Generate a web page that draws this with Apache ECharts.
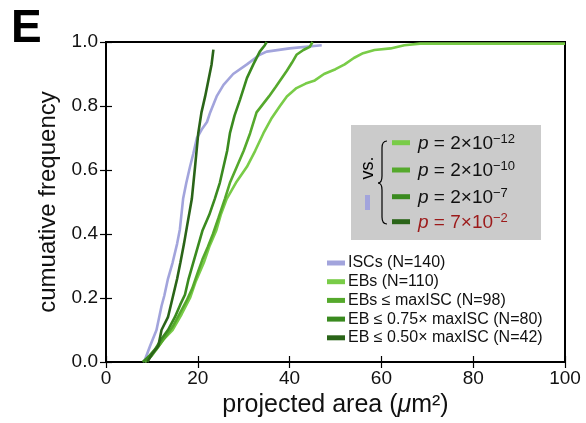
<!DOCTYPE html>
<html>
<head>
<meta charset="utf-8">
<script src="https://cdn.jsdelivr.net/npm/echarts@6/dist/echarts.min.js"></script>
<style>
html,body{margin:0;padding:0;background:#fff;}
#chart{width:586px;height:423px;}
</style>
</head>
<body>
<div id="chart"></div>
<script>
// ---- data (x = projected area µm², y = cumulative frequency) ----
const seriesNames = ['ISCs (N=140)', 'EBs (N=110)', 'EBs \u2264 maxISC (N=98)', 'EB \u2264 0.75\u00d7 maxISC (N=80)', 'EB \u2264 0.50\u00d7 maxISC (N=42)'];
const seriesColors = ['#a2a4dc', '#79cc48', '#55a92c', '#3a8a1f', '#2a6418'];

const iscPoints = [[8.3,0],[9.6,0.05],[11,0.1],[12.1,0.175],[12.7,0.207],[13.5,0.26],[14.5,0.31],[15.5,0.37],[16.1,0.415],[16.8,0.51],[17.5,0.56],[18.3,0.61],[19,0.65],[19.8,0.7],[21,0.73],[22,0.75],[22.7,0.78],[24.1,0.83],[25.6,0.866],[27.7,0.9],[30.7,0.93],[33.5,0.96],[35,0.97],[40,0.98],[47,0.99]];
const ebPoints = [[8.5,0],[9.5,0.02],[11,0.04],[12.5,0.07],[14.5,0.1],[16.5,0.15],[18.3,0.2],[19.5,0.25],[21.3,0.31],[22.5,0.36],[24,0.41],[25,0.46],[26.3,0.51],[28.3,0.56],[30.7,0.61],[32.5,0.66],[34.3,0.715],[36,0.76],[37.9,0.8],[39.4,0.83],[41.5,0.856],[43.5,0.87],[45.5,0.88],[47.5,0.9],[50,0.915],[52,0.93],[54,0.95],[56,0.965],[58.5,0.975],[62,0.98],[65,0.99],[68.4,0.995],[100,0.995]];
const ebMaxPoints = [[8.5,0],[10,0.02],[11.5,0.05],[13,0.08],[14.5,0.11],[16,0.15],[17.5,0.19],[18.8,0.23],[20,0.28],[21,0.32],[22.2,0.36],[23.3,0.4],[24.5,0.45],[25.9,0.51],[27,0.56],[28.5,0.61],[30,0.66],[31.4,0.715],[32.8,0.78],[35.5,0.83],[37,0.86],[39.4,0.91],[40.5,0.935],[41.5,0.96],[43,0.975],[44.4,0.985],[45,1.0]];
const eb75Points = [[8,0],[9.5,0.02],[10.7,0.04],[12,0.07],[13.5,0.1],[15,0.14],[16.2,0.18],[17.2,0.21],[18,0.26],[19,0.31],[20,0.36],[21,0.41],[22.5,0.46],[23.7,0.51],[24.8,0.56],[25.6,0.61],[26.4,0.66],[27,0.715],[28,0.77],[29.2,0.82],[30.7,0.887],[32.1,0.93],[33.5,0.97],[34.6,0.99],[35,1.0]];
const eb50Points = [[9,0],[10,0.024],[11.4,0.05],[12.1,0.1],[13.5,0.14],[14.5,0.2],[15.5,0.26],[16.2,0.31],[17,0.37],[17.6,0.42],[18.7,0.51],[19.4,0.61],[20.1,0.715],[20.8,0.78],[21.6,0.83],[22.3,0.88],[23,0.93],[23.4,0.976]];

const xTicks = [0, 20, 40, 60, 80, 100];
const yTicks = [0.0, 0.2, 0.4, 0.6, 0.8, 1.0];
const pMantissa = ['2\u00d710', '2\u00d710', '2\u00d710', '7\u00d710'];
const pExponent = ['\u221212', '\u221210', '\u22127', '\u22122'];

// ---- chart ----
const FONT = '"Liberation Sans", Arial, Helvetica, sans-serif';
const chart = echarts.init(document.getElementById('chart'), null, {renderer: 'canvas'});
const allPoints = [iscPoints, ebPoints, ebMaxPoints, eb75Points, eb50Points];

const series = allPoints.map((pts, i) => ({
  name: seriesNames[i],
  type: 'line',
  data: pts,
  symbol: 'none',
  smooth: false,
  lineStyle: {width: 2.6, color: seriesColors[i]},
  itemStyle: {color: seriesColors[i]},
  z: 2 + i,
  clip: false
}));

const braceStyle = {fill: 'none', stroke: '#000', lineWidth: 1.2};
const boxRows = [142.7, 170, 196.7, 221.7];
const graphics = [
  {type: 'text', left: 11, top: 6, style: {text: 'E', font: 'bold 46px ' + FONT, fill: '#000'}},
  {type: 'rect', shape: {x: 351, y: 125, width: 190, height: 115}, style: {fill: '#cbcbcb'}, z: 10},
  {type: 'text', x: 368, y: 168, rotation: Math.PI / 2, style: {text: 'vs.', font: '18px ' + FONT, fill: '#000', align: 'center', verticalAlign: 'middle'}, z: 11},
  {type: 'rect', shape: {x: 365, y: 195, width: 5, height: 15}, style: {fill: seriesColors[0]}, z: 11},
  {type: 'bezierCurve', shape: {x1: 387, y1: 141, cpx1: 382, cpy1: 141, x2: 382, y2: 148}, style: braceStyle, z: 11},
  {type: 'line', shape: {x1: 382, y1: 148, x2: 382, y2: 176}, style: braceStyle, z: 11},
  {type: 'bezierCurve', shape: {x1: 382, y1: 176, cpx1: 382, cpy1: 183, x2: 378, y2: 183}, style: braceStyle, z: 11},
  {type: 'bezierCurve', shape: {x1: 378, y1: 183, cpx1: 382, cpy1: 183, x2: 382, y2: 190}, style: braceStyle, z: 11},
  {type: 'line', shape: {x1: 382, y1: 190, x2: 382, y2: 217}, style: braceStyle, z: 11},
  {type: 'bezierCurve', shape: {x1: 382, y1: 217, cpx1: 382, cpy1: 224, x2: 387, y2: 224}, style: braceStyle, z: 11}
];
boxRows.forEach((y, i) => {
  graphics.push({type: 'rect', shape: {x: 392, y: y - 2.5, width: 18, height: 5}, style: {fill: seriesColors[i + 1]}, z: 11});
  const col = i === 3 ? '#9c1a1a' : '#111';
  graphics.push({
    type: 'text', x: 418, y: y + 1, z: 11,
    style: {
      text: '{i|p} = ' + pMantissa[i] + '{s|' + pExponent[i] + '}',
      font: '19px ' + FONT, fill: col, verticalAlign: 'middle',
      rich: {
        i: {fontStyle: 'italic', fontSize: 19, fontFamily: FONT, fill: col, lineHeight: 22},
        s: {fontSize: 13, fontFamily: FONT, fill: col, verticalAlign: 'top', lineHeight: 22}
      },
      lineHeight: 22
    }
  });
});

const option = {
  animation: false,
  backgroundColor: '#fff',
  grid: {left: 106, right: 21, top: 42, bottom: 60, show: true, borderColor: '#000', borderWidth: 2, backgroundColor: 'transparent'},
  legend: {
    orient: 'vertical', left: 322, top: 250, icon: 'rect', itemWidth: 18, itemHeight: 5, itemGap: 2.7,
    textStyle: {fontSize: 16, fontFamily: FONT, color: '#111', lineHeight: 16, padding: [0, 0, 0, -2]},
    data: seriesNames
  },
  xAxis: [
    {type: 'value', min: xTicks[0], max: xTicks[xTicks.length - 1], interval: 20, position: 'bottom',
     axisLine: {show: false}, splitLine: {show: false},
     axisTick: {show: true, inside: true, length: 6, lineStyle: {color: '#000', width: 1.2}},
     axisLabel: {fontSize: 19, fontFamily: FONT, color: '#111', margin: 7},
     name: 'projected area ({i|\u03bc}m\u00b2)', nameLocation: 'middle', nameGap: 31,
     nameTextStyle: {fontSize: 25, fontFamily: FONT, color: '#111', rich: {i: {fontStyle: 'italic', fontSize: 25, fontFamily: FONT, color: '#111'}}}},
    {type: 'value', min: xTicks[0], max: xTicks[xTicks.length - 1], interval: 20, position: 'top',
     axisLine: {show: false}, splitLine: {show: false}, axisLabel: {show: false},
     axisTick: {show: true, inside: true, length: 6, lineStyle: {color: '#000', width: 1.2}}}
  ],
  yAxis: [
    {type: 'value', min: yTicks[0], max: yTicks[yTicks.length - 1], interval: 0.2, position: 'left',
     axisLine: {show: false}, splitLine: {show: false},
     axisTick: {show: true, inside: true, length: 6, lineStyle: {color: '#000', width: 1.2}},
     axisLabel: {fontSize: 19, fontFamily: FONT, color: '#111', margin: 8, formatter: v => v.toFixed(1)},
     name: 'cumuative frequency', nameLocation: 'middle', nameGap: 45,
     nameTextStyle: {fontSize: 24, fontFamily: FONT, color: '#111'}},
    {type: 'value', min: yTicks[0], max: yTicks[yTicks.length - 1], interval: 0.2, position: 'right',
     axisLine: {show: false}, splitLine: {show: false}, axisLabel: {show: false},
     axisTick: {show: true, inside: true, length: 6, lineStyle: {color: '#000', width: 1.2}}}
  ],
  series: series,
  graphic: graphics
};
chart.setOption(option);
</script>
</body>
</html>
